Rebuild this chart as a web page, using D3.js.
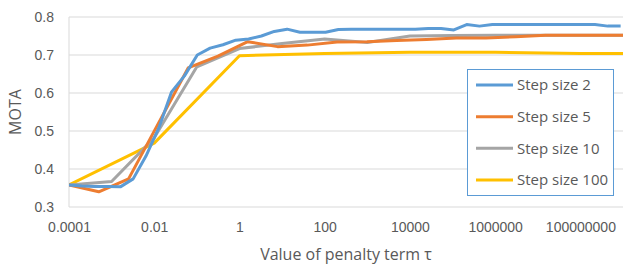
<!DOCTYPE html>
<html>
<head>
    <meta charset="utf-8">
    <title>MOTA vs penalty term</title>
    <script src="https://cdnjs.cloudflare.com/ajax/libs/d3/7.8.5/d3.min.js"></script>
    <style>
        body {
            margin: 0;
            background: white;
            font-family: "Open Sans", Arial, sans-serif;
        }
        .grid line {
            stroke: #d9d9d9;
            stroke-width: 1;
        }
        .tick text {
            fill: #595959;
            font-size: 14px;
        }
        .series {
            fill: none;
            stroke-width: 3;
            stroke-linejoin: round;
        }
    </style>
</head>
<body>
    <div id="chart"></div>

    <script>
        // tau values for each step size (multiplied by the step each time)
        const tau2 = [1e-4, 2e-4, 4e-4, 8e-4, 1.6e-3, 3.2e-3, 6.4e-3, 0.0128, 0.0256, 0.0512,
            0.1024, 0.2048, 0.4096, 0.8192, 1.6384, 3.2768, 6.5536, 13.1072, 26.2144, 52.4288,
            104.8576, 209.7152, 419.4304, 838.8608, 1677.7216, 3355.4432, 6710.8864, 13421.7728,
            26843.5456, 53687.0912, 107374.1824, 214748.3648, 429496.7296, 858993.4592,
            1717986.918, 3435973.837, 6871947.674, 13743895.35, 27487790.69, 54975581.39,
            109951162.8, 219902325.6, 439804651.1, 879609302.2];
        const tau5 = [1e-4, 5e-4, 2.5e-3, 0.0125, 0.0625, 0.3125, 1.5625, 7.8125, 39.0625,
            195.3125, 976.5625, 4882.8125, 24414.0625, 122070.3125, 610351.5625, 3051757.813,
            15258789.06, 76293945.31, 381469726.6, 1907348633];
        const tau10 = [1e-4, 1e-3, 1e-2, 1e-1, 1, 10, 100, 1e3, 1e4, 1e5, 1e6, 1e7, 1e8, 1e9];
        const tau100 = [1e-4, 1e-2, 1, 100, 1e4, 1e6, 1e8, 1e10];

        // MOTA
        const mota2 = [0.358, 0.355, 0.354, 0.354, 0.353, 0.374, 0.434, 0.508, 0.603, 0.645,
            0.700, 0.718, 0.727, 0.739, 0.742, 0.750, 0.762, 0.768, 0.760, 0.760,
            0.760, 0.767, 0.768, 0.768, 0.768, 0.768, 0.768, 0.768, 0.770, 0.770,
            0.766, 0.780, 0.776, 0.780, 0.780, 0.780, 0.780, 0.780, 0.780, 0.780,
            0.780, 0.780, 0.776, 0.776];
        const mota5 = [0.358, 0.340, 0.374, 0.520, 0.666, 0.697, 0.735, 0.722, 0.726, 0.734,
            0.735, 0.738, 0.741, 0.745, 0.745, 0.748, 0.752, 0.752, 0.752, 0.752];
        const mota10 = [0.358, 0.367, 0.482, 0.669, 0.717, 0.730, 0.742, 0.733, 0.750, 0.751,
            0.752, 0.752, 0.752, 0.752];
        const mota100 = [0.358, 0.468, 0.698, 0.704, 0.707, 0.707, 0.704, 0.704];

        const seriesNames = ["Step size 2", "Step size 5", "Step size 10", "Step size 100"];
        const seriesColors = ["#5b9bd5", "#ed7d31", "#a5a5a5", "#ffc000"];

        const xTicks = [1e-4, 1e-2, 1, 100, 1e4, 1e6, 1e8];
        const xTickLabels = ["0.0001", "0.01", "1", "100", "10000", "1000000", "100000000"];
        const yTicks = [0.3, 0.4, 0.5, 0.6, 0.7, 0.8];

        const width = 623, height = 266;
        const plot = { left: 69, right: 623, top: 17, bottom: 207 };

        const svg = d3.select("#chart").append("svg")
            .attr("width", width)
            .attr("height", height);

        const x = d3.scaleLog().domain([1e-4, 1e9]).range([plot.left, plot.right]);
        const y = d3.scaleLinear().domain([0.3, 0.8]).range([plot.bottom, plot.top]);

        svg.append("defs").append("clipPath").attr("id", "plotclip")
            .append("rect")
            .attr("x", plot.left).attr("y", 0)
            .attr("width", plot.right - plot.left).attr("height", plot.bottom + 5);

        // horizontal gridlines
        svg.append("g").attr("class", "grid")
            .selectAll("line")
            .data(yTicks)
            .join("line")
            .attr("x1", plot.left).attr("x2", plot.right)
            .attr("y1", d => y(d)).attr("y2", d => y(d));

        // left axis line
        svg.append("line")
            .attr("x1", plot.left).attr("x2", plot.left)
            .attr("y1", plot.top).attr("y2", plot.bottom)
            .attr("stroke", "#d9d9d9");

        // y axis labels
        const yAxis = svg.append("g")
            .attr("transform", `translate(${plot.left - 15},0)`)
            .call(d3.axisLeft(y).tickValues(yTicks).tickFormat(d3.format(".1f")).tickSize(0));
        yAxis.select(".domain").remove();
        yAxis.selectAll("text").attr("x", 0);

        // x axis labels
        const xAxis = svg.append("g")
            .attr("transform", `translate(0,${plot.bottom + 12})`)
            .call(d3.axisBottom(x).tickValues(xTicks)
                .tickFormat((d, i) => xTickLabels[i]).tickSize(0));
        xAxis.select(".domain").remove();

        // lines
        const line = d3.line()
            .x(d => x(d[0]))
            .y(d => y(d[1]));

        const taus = [tau2, tau5, tau10, tau100];
        const motas = [mota2, mota5, mota10, mota100];

        const lines = svg.append("g").attr("clip-path", "url(#plotclip)");
        // draw step size 100 first so step size 2 ends on top
        [3, 2, 1, 0].forEach(i => {
            lines.append("path")
                .datum(d3.zip(taus[i], motas[i]))
                .attr("class", "series")
                .attr("stroke", seriesColors[i])
                .attr("d", line);
        });

        // axis titles
        svg.append("text")
            .attr("transform", `translate(21,${(plot.top + plot.bottom) / 2}) rotate(-90)`)
            .attr("text-anchor", "middle")
            .attr("fill", "#595959")
            .attr("font-size", "16px")
            .text("MOTA");

        svg.append("text")
            .attr("x", (plot.left + plot.right) / 2)
            .attr("y", 260)
            .attr("text-anchor", "middle")
            .attr("fill", "#595959")
            .attr("font-size", "16px")
            .text("Value of penalty term τ");

        // legend
        const legend = svg.append("g");
        legend.append("rect")
            .attr("x", 467.5).attr("y", 69.5)
            .attr("width", 146).attr("height", 126)
            .attr("fill", "white")
            .attr("stroke", "#5b9bd5");

        const rowY = d3.scalePoint().domain(seriesNames).range([85, 180]);
        const item = legend.selectAll("g.item")
            .data(seriesNames)
            .join("g")
            .attr("class", "item")
            .attr("transform", d => `translate(0,${rowY(d)})`);
        item.append("line")
            .attr("x1", 476).attr("x2", 513)
            .attr("stroke", (d, i) => seriesColors[i])
            .attr("stroke-width", 3);
        item.append("text")
            .attr("x", 517)
            .attr("dy", "0.35em")
            .attr("fill", "#595959")
            .attr("font-size", "15px")
            .text(d => d);
    </script>
</body>
</html>
